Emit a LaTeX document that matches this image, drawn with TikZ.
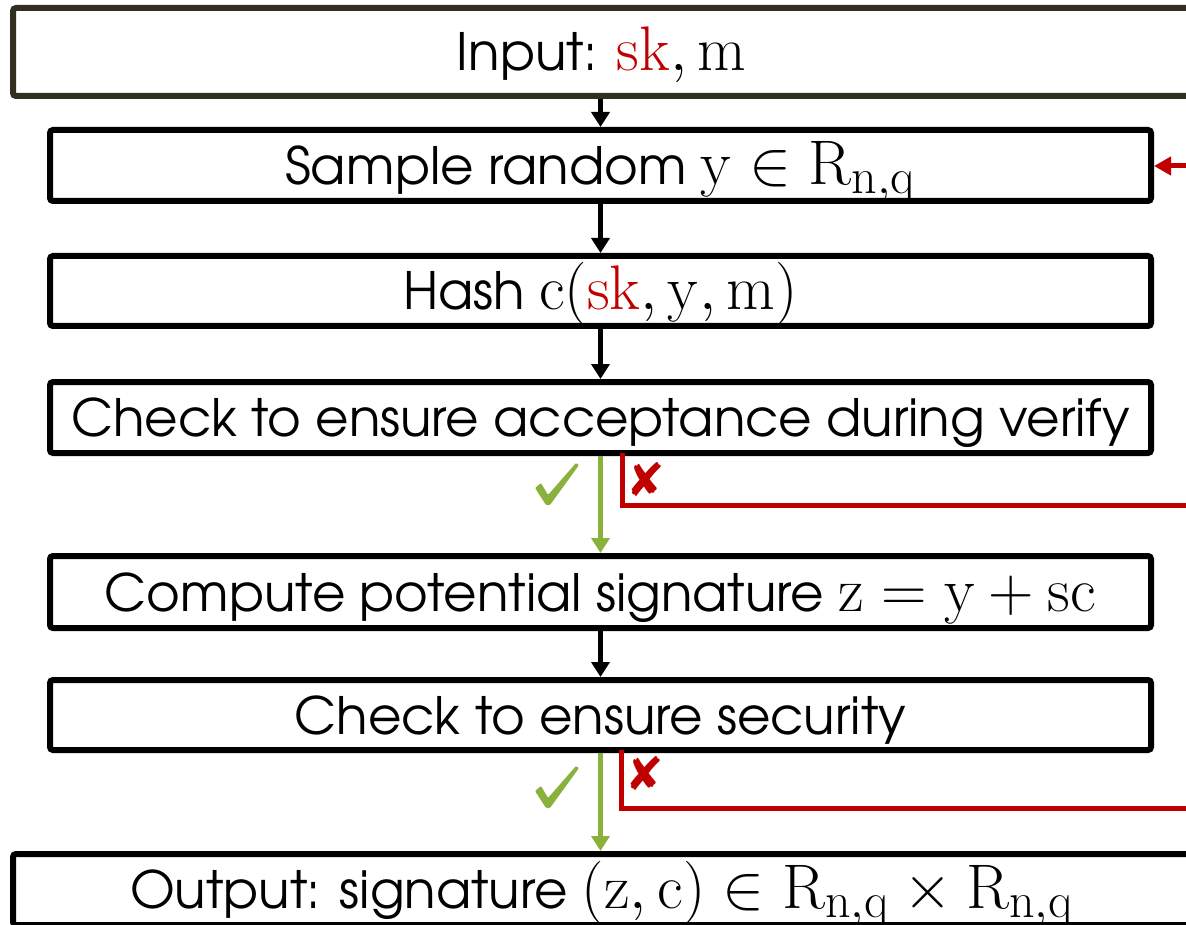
\documentclass[tikz,border=0pt]{standalone}
\usepackage{fix-cm}
\usepackage[no-math]{fontspec}
\setmainfont{TeX Gyre Adventor}
\newfontfamily\symfont{DejaVu Sans}
\usetikzlibrary{arrows.meta}
\definecolor{boxdark}{RGB}{50,46,34}
\definecolor{rejred}{RGB}{192,0,0}
\definecolor{okgreen}{RGB}{137,178,60}
% math set larger than the running text, with roomy subscripts
\DeclareMathSizes{63}{63}{50}{40}
\newcommand\mth[1]{{\fontsize{63}{66}\selectfont$#1$}}
\newcommand\rsk{{\color{rejred}\mathrm{sk}}}
\newcommand\Rnq{\mathrm{R}_{\mathrm{n,q}}}
\begin{document}
\begin{tikzpicture}[x=1pt,y=-1pt,
  stepbox/.style={draw=black, line width=6pt, rounded corners=3pt,
    minimum width=1101pt, inner sep=0pt,
    font=\fontsize{51.5}{60}\selectfont, text height=38pt, text depth=0pt},
  flow/.style={-{Triangle[width=18pt,length=15pt]}, line width=5pt},
  okflow/.style={flow, draw=okgreen},
  rej/.style={draw=rejred, line width=5pt},
  rejflow/.style={rej, -{Triangle[width=18pt,length=17pt]}},
  nomark/.style={text=rejred, font=\symfont\fontsize{46}{46}\selectfont, inner sep=0pt},
  tick/.style={fill=okgreen, rounded corners=1pt}]
\useasboundingbox (0,0) rectangle (1186,925);
\clip (0,0) rectangle (1186,925);

% the signing steps
\node[stepbox, draw=boxdark, minimum width=1177pt, minimum height=88pt] (b0) at (601.5,52)
  {Input: \mth{\rsk, \mathrm{m}}};
\node[stepbox, minimum height=71pt] (b1) at (600.5,165.5)
  {Sample random \mth{\mathrm{y}\in\Rnq}};
\node[stepbox, minimum height=70pt] (b2) at (600.5,291)
  {Hash \mth{\mathrm{c}(\rsk,\mathrm{y},\mathrm{m})}};
\node[stepbox, minimum height=71pt] (b3) at (600.5,417.5)
  {Check to ensure acceptance during verify};
\node[stepbox, minimum height=72pt] (b4) at (600.5,592)
  {Compute potential signature \mth{\mathrm{z}=\mathrm{y}+\mathrm{sc}}};
\node[stepbox, minimum height=70pt] (b5) at (600.5,715)
  {Check to ensure security};
\node[stepbox, minimum width=1177pt, minimum height=71pt] (b6) at (601.5,889.5)
  {Output: signature \mth{\Bigl(\mathrm{z},\mathrm{c}\Bigr)\in\Rnq\times\Rnq}};

% forward flow
\draw[flow] (b1.north |- b0.south) -- (b1.north);
\draw[flow] (b1.south) -- (b2.north);
\draw[flow] (b2.south) -- (b3.north);
\draw[okflow] (b3.south) -- (b4.north);
\draw[flow] (b4.south) -- (b5.north);
\draw[okflow] (b5.south) -- (b5.south |- b6.north);

% rejection paths back to sampling
\coordinate (loop1) at (1195,505);
\coordinate (loop2) at (1195,808);
\coordinate (loopin) at (1195,166);
\draw[rej] ([xshift=21.5pt,yshift=3pt]b3.south) |- (loop1);
\draw[rej] ([xshift=20.5pt,yshift=3pt]b5.south) |- (loop2);
\draw[rejflow] (loopin) -- (loopin -| b1.east);

% outcome marks: a brushed tick for pass, a cross for fail
\coordinate (ok1) at (556,484);
\coordinate (ok2) at (556,787);
\foreach \c in {ok1,ok2}
  \fill[tick, shift={(\c)}] (-21,4) -- (-15,-1) -- (-8,11) -- (20,-21) -- (23,-19)
    -- (-6,21) -- (-10,21) -- cycle;
\node[nomark] (no1) at (646,479) {✘};
\node[nomark] (no2) at (645,773) {✘};
\end{tikzpicture}
\end{document}
